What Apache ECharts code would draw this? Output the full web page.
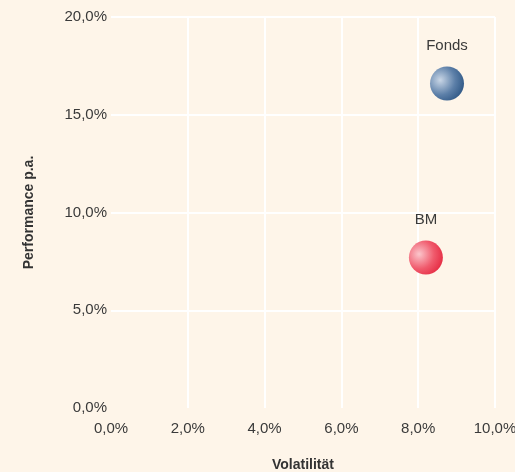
<!DOCTYPE html>
<html>
<head>
<meta charset="utf-8">
<script src="https://cdn.jsdelivr.net/npm/echarts@6/dist/echarts.min.js"></script>
<style>
  html, body { margin: 0; padding: 0; background: #fef5e9; }
  #box { width: 515px; height: 472px; }
</style>
</head>
<body>
<div id="box"></div>
<script>
var names = ['Fonds', 'BM'];
var volatility = [8.75, 8.2];
var performance = [16.6, 7.7];
var xTicks = { min: 0, max: 10, interval: 2 };
var yTicks = { min: 0, max: 20, interval: 5 };

var gradients = [
    ['#c9d6e6', '#5c7fa8', '#27507f'],
    ['#fbc6cc', '#f05a6c', '#e3223b']
];

function fmt(v) {
    return v.toFixed(1).replace('.', ',') + '%';
}

var chart = echarts.init(document.getElementById('box'));
var option = {
    backgroundColor: '#fef5e9',
    textStyle: { fontFamily: 'Liberation Sans, Arial, sans-serif' },
    grid: { left: 111, right: 20, top: 17, bottom: 64, outerBoundsMode: 'none', containLabel: false },
    xAxis: {
        type: 'value',
        min: xTicks.min, max: xTicks.max, interval: xTicks.interval,
        name: 'Volatilität',
        nameLocation: 'middle',
        nameGap: 50,
        nameTextStyle: { fontWeight: 'bold', fontSize: 14, color: '#333' },
        axisLine: { show: false },
        axisTick: { show: false },
        axisLabel: { formatter: fmt, fontSize: 15, color: '#3a3a3a', margin: 13 },
        splitLine: { show: true, showMinLine: false, lineStyle: { color: '#ffffff', width: 2 } }
    },
    yAxis: {
        type: 'value',
        min: yTicks.min, max: yTicks.max, interval: yTicks.interval,
        name: 'Performance p.a.',
        nameLocation: 'middle',
        nameGap: 75,
        nameTextStyle: { fontWeight: 'bold', fontSize: 14, color: '#333' },
        axisLine: { show: false },
        axisTick: { show: false },
        axisLabel: { formatter: fmt, fontSize: 15, color: '#3a3a3a', margin: 4 },
        splitLine: { show: true, showMinLine: false, lineStyle: { color: '#ffffff', width: 2 } }
    },
    series: names.map(function (n, i) {
        return {
            name: n,
            type: 'scatter',
            symbolSize: 34,
            data: [[volatility[i], performance[i]]],
            label: {
                show: true,
                position: 'top',
                distance: 13,
                formatter: n,
                fontSize: 15,
                color: '#3a3a3a'
            },
            itemStyle: {
                opacity: 1,
                color: {
                    type: 'radial', x: 0.3, y: 0.4, r: 0.8,
                    colorStops: [
                        { offset: 0, color: gradients[i][0] },
                        { offset: 0.55, color: gradients[i][1] },
                        { offset: 1, color: gradients[i][2] }
                    ]
                }
            }
        };
    })
};
chart.setOption(option);
</script>
</body>
</html>
